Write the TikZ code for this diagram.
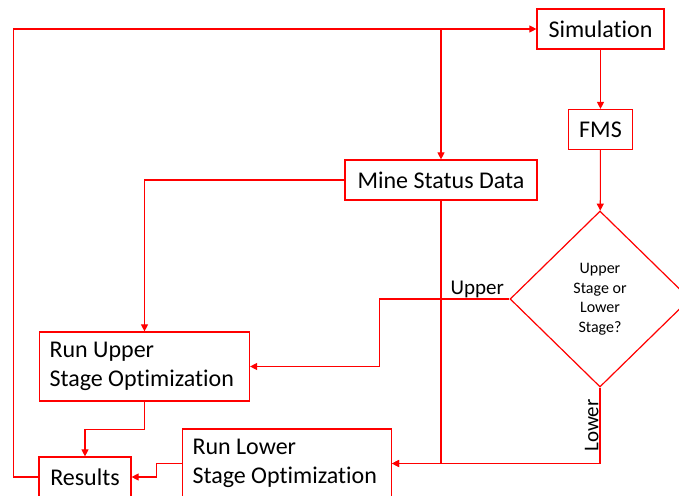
\documentclass[tikz,border=0pt]{standalone}
\usepackage{fontspec}
\setmainfont{Carlito}[Ligatures=NoCommon]
\usetikzlibrary{shapes.geometric,arrows.meta}
\definecolor{flowred}{RGB}{255,0,0}

\begin{document}
\begin{tikzpicture}[x=1pt,y=-1pt,
  box/.style={draw=flowred,line width=1.2pt,font=\fontsize{24}{29}\selectfont,inner sep=0pt,minimum height=40},
  twoline/.style={box,align=flush left,text width=#1,inner xsep=10pt,minimum height=69},
  flow/.style={draw=flowred,line width=1.1pt,-{Triangle[length=7pt,width=7pt]}},
  tag/.style={font=\fontsize{21}{25}\selectfont,inner sep=1pt}]
  \useasboundingbox (0,0) rectangle (679,495);
  \clip (0,0) rectangle (679,495);
  % boxes
  \node[box,minimum width=127] (sim) at (600.5,29) {Simulation};
  \node[box,minimum width=64] (fms) at (600.5,129.5) {FMS};
  \node[box,minimum width=192] (msd) at (441,180) {Mine Status Data};
  \node[draw=flowred,line width=1.2pt,diamond,minimum width=180,minimum height=176,inner sep=0pt,
    align=center,font=\fontsize{16}{19.5}\selectfont] (dec) at (600,299) {Upper\\Stage or\\Lower\\Stage?};
  \node[twoline=190] (ru) at (144.5,366.5) {Run Upper\\Stage Optimization};
  \node[twoline=189] (rl) at (287,463.5) {Run Lower\\Stage Optimization};
  \node[box,minimum width=92] (res) at (85,477) {Results};
  % connectors
  \draw[flow] (res.west) -- ++(-25,0) |- (sim.west);
  \draw[flow] (msd.north |- sim.west) -- (msd.north);
  \draw[flow] (sim) -- (fms);
  \draw[flow] (fms) -- (dec);
  \draw[flow] (msd.west) -| (ru.north);
  \draw[flow] (msd.south) |- (rl.east);
  \draw[flow] (dec.south) |- node[tag,pos=0.25,rotate=90,anchor=south] {Lower} (rl.east);
  \draw[flow] (dec.west) -- node[tag,pos=0,anchor=south east,xshift=-4pt] {Upper} ++(-130,0) |- (ru.east);
  \draw[flow] (ru.south) -- ++(0,28) -| (res.north);
  \draw[flow] (rl.west) -- ++(-25,0) |- (res.east);
\end{tikzpicture}
\end{document}
